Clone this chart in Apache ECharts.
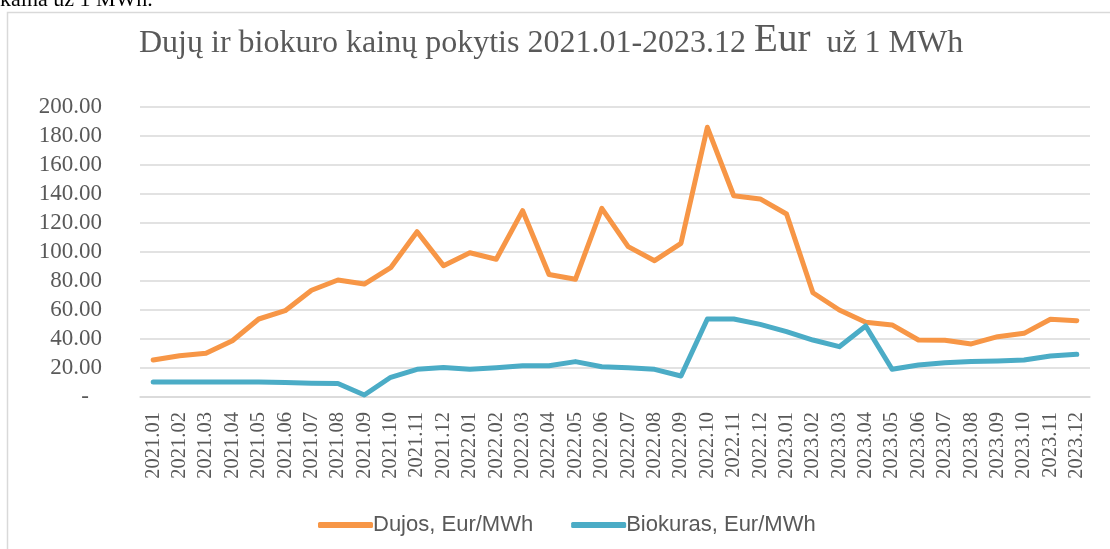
<!DOCTYPE html>
<html>
<head>
<meta charset="utf-8">
<style>
  html, body { margin: 0; padding: 0; background: #fff; }
  #chart { width: 1110px; height: 549px; }
</style>
<script src="https://cdn.jsdelivr.net/npm/echarts@6/dist/echarts.min.js"></script>
</head>
<body>
<div id="chart"></div>
<script>
let months = ['2021.01', '2021.02', '2021.03', '2021.04', '2021.05', '2021.06', '2021.07', '2021.08', '2021.09', '2021.10', '2021.11', '2021.12',
    '2022.01', '2022.02', '2022.03', '2022.04', '2022.05', '2022.06', '2022.07', '2022.08', '2022.09', '2022.10', '2022.11', '2022.12',
    '2023.01', '2023.02', '2023.03', '2023.04', '2023.05', '2023.06', '2023.07', '2023.08', '2023.09', '2023.10', '2023.11', '2023.12']
let dujos = [25.5, 28.5, 30.1, 38.8, 53.8, 59.5, 73.6, 80.7, 77.9, 89.2, 114.0, 90.6,
    99.5, 95.0, 128.5, 84.5, 81.2, 130.1, 103.7, 94.0, 106.0, 186.0, 138.8, 136.6,
    126.2, 71.9, 60.0, 51.5, 49.7, 39.3, 39.1, 36.6, 41.6, 43.9, 53.6, 52.6]
let biokuras = [10.3, 10.3, 10.3, 10.3, 10.3, 10.0, 9.5, 9.3, 1.4, 13.6, 19.1, 20.4,
    19.1, 20.2, 21.6, 21.6, 24.4, 20.9, 20.2, 19.1, 14.5, 53.8, 53.8, 50.1,
    45.1, 39.3, 34.7, 49.0, 19.1, 22.1, 23.7, 24.4, 24.8, 25.5, 28.3, 29.4]
let seriesNames = ['Dujos, Eur/MWh', 'Biokuras, Eur/MWh']

let textColor = '#595959'
let serif = '"Liberation Serif", "Times New Roman", serif'

let chart = echarts.init(document.getElementById('chart'))

function lineSeries(name, data, color) {
    return {
        name: name,
        type: 'line',
        data: data,
        symbol: 'none',
        color: color,
        lineStyle: {width: 5, color: color, cap: 'round', join: 'round'}
    }
}

chart.setOption({
    animation: false,
    title: {
        left: 134,
        top: 15,
        text: '{a|Dujų ir biokuro kainų pokytis 2021.01-2023.12 }{b|Eur}{a|  už 1 MWh}',
        textStyle: {
            fontWeight: 'normal',
            rich: {
                a: {fontFamily: serif, fontSize: 32, lineHeight: 40, verticalAlign: 'bottom', fontWeight: 'normal', color: textColor},
                b: {fontFamily: serif, fontSize: 39, lineHeight: 40, verticalAlign: 'bottom', fontWeight: 'normal', color: textColor}
            }
        }
    },
    graphic: [
        {
            type: 'rect',
            shape: {x: 7.5, y: 12.5, width: 1200, height: 600},
            style: {fill: 'none', stroke: '#d9d9d9', lineWidth: 1.5},
            silent: true
        },
        {
            type: 'text',
            x: 0,
            y: 11.5,
            style: {text: 'kaina už 1 MWh.', font: '22px ' + serif, fill: '#000', textVerticalAlign: 'bottom'},
            silent: true
        }
    ],
    legend: {
        left: 313,
        top: 509,
        icon: 'roundRect',
        itemWidth: 55,
        itemHeight: 6,
        itemGap: 38,
        data: seriesNames,
        textStyle: {fontFamily: '"Liberation Sans", Arial, sans-serif', fontSize: 22, color: textColor, padding: [0, 0, 0, -5]}
    },
    grid: {left: 140, right: 20, top: 107, bottom: 152},
    xAxis: {
        type: 'category',
        data: months,
        boundaryGap: true,
        axisLine: {lineStyle: {color: '#d9d9d9', width: 1.5}},
        axisTick: {show: false},
        axisLabel: {rotate: 90, interval: 0, margin: 15, fontFamily: serif, fontSize: 20.5, color: textColor}
    },
    yAxis: {
        type: 'value',
        min: 0,
        max: 200,
        interval: 20,
        axisLine: {show: false},
        axisTick: {show: false},
        splitLine: {lineStyle: {color: '#d9d9d9', width: 1.5}},
        axisLabel: {
            margin: 38,
            fontFamily: serif,
            fontSize: 23,
            color: textColor,
            formatter: function (v) {
                return v === 0 ? '{d|-}' : v.toFixed(2)
            },
            rich: {d: {fontFamily: serif, fontSize: 23, color: textColor, padding: [0, 13, 0, 0]}}
        }
    },
    series: [
        lineSeries(seriesNames[0], dujos, '#F79646'),
        lineSeries(seriesNames[1], biokuras, '#4BACC6')
    ]
})
</script>
</body>
</html>
